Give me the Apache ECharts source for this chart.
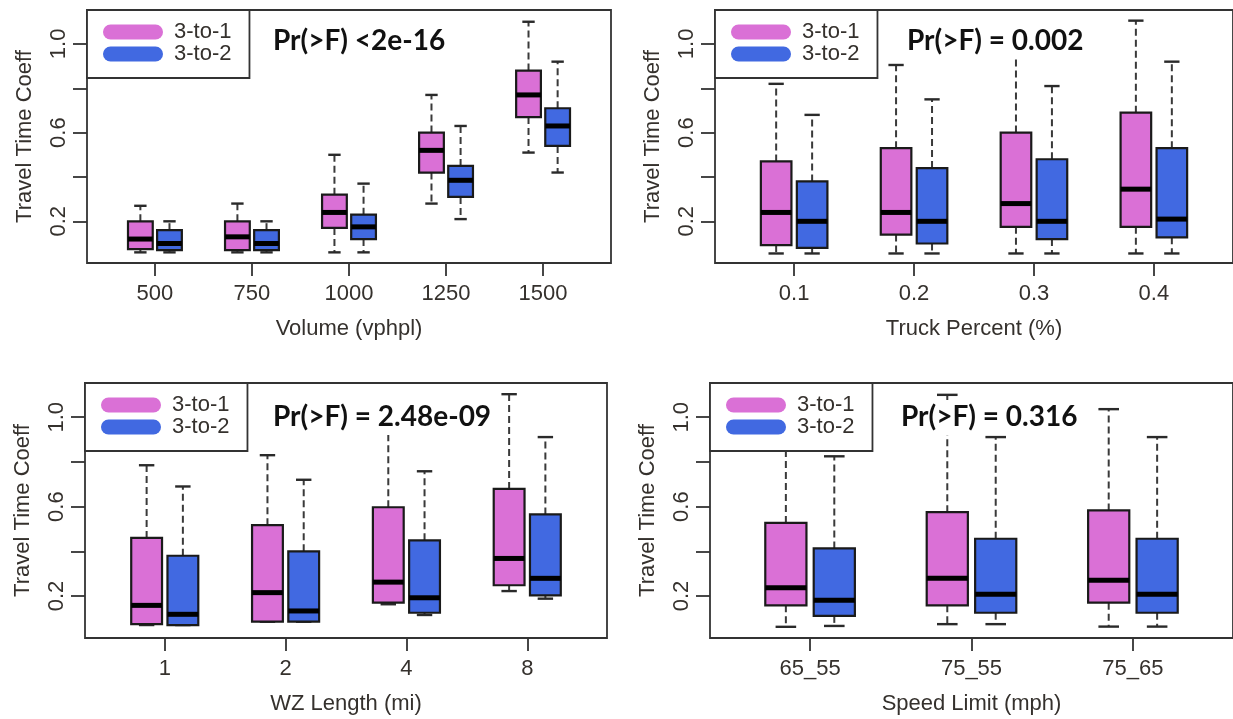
<!DOCTYPE html>
<html>
<head>
<meta charset="utf-8">
<script src="https://cdn.jsdelivr.net/npm/echarts@6/dist/echarts.min.js"></script>
<style>
  html, body { margin: 0; padding: 0; background: #fff; }
  #chart { width: 1233px; height: 719px; }
</style>
</head>
<body>
<div id="chart"></div>
<script>
// Box statistics per group: [lower whisker, Q1, median, Q3, upper whisker]
const volumeCategories = ['500', '750', '1000', '1250', '1500'];
const volume3to1 = [
  [0.06, 0.075, 0.12, 0.20, 0.27],
  [0.06, 0.07, 0.13, 0.20, 0.28],
  [0.06, 0.17, 0.24, 0.32, 0.50],
  [0.28, 0.42, 0.52, 0.60, 0.77],
  [0.51, 0.67, 0.77, 0.88, 1.10]
];
const volume3to2 = [
  [0.06, 0.07, 0.10, 0.16, 0.20],
  [0.06, 0.07, 0.10, 0.16, 0.20],
  [0.06, 0.12, 0.175, 0.23, 0.37],
  [0.21, 0.31, 0.385, 0.45, 0.63],
  [0.42, 0.54, 0.63, 0.71, 0.92]
];

const truckCategories = ['0.1', '0.2', '0.3', '0.4'];
const truck3to1 = [
  [0.055, 0.093, 0.24, 0.47, 0.82],
  [0.055, 0.14, 0.24, 0.53, 0.905],
  [0.055, 0.175, 0.28, 0.60, 0.99],
  [0.055, 0.175, 0.345, 0.69, 1.105]
];
const truck3to2 = [
  [0.055, 0.08, 0.20, 0.38, 0.68],
  [0.055, 0.10, 0.20, 0.44, 0.75],
  [0.055, 0.12, 0.20, 0.48, 0.81],
  [0.055, 0.128, 0.21, 0.53, 0.92]
];

const wzCategories = ['1', '2', '4', '8'];
const wz3to1 = [
  [0.07, 0.074, 0.158, 0.46, 0.785],
  [0.085, 0.085, 0.215, 0.517, 0.83],
  [0.163, 0.17, 0.262, 0.597, 1.0],
  [0.222, 0.248, 0.368, 0.679, 1.103]
];
const wz3to2 = [
  [0.07, 0.07, 0.118, 0.38, 0.69],
  [0.085, 0.085, 0.133, 0.40, 0.72],
  [0.115, 0.125, 0.192, 0.449, 0.758],
  [0.188, 0.203, 0.279, 0.565, 0.911]
];

const speedCategories = ['65_55', '75_55', '75_65'];
const speed3to1 = [
  [0.062, 0.158, 0.237, 0.527, 0.93],
  [0.074, 0.158, 0.279, 0.575, 1.10],
  [0.063, 0.17, 0.27, 0.583, 1.036]
];
const speed3to2 = [
  [0.066, 0.111, 0.181, 0.413, 0.825],
  [0.074, 0.125, 0.208, 0.456, 0.911],
  [0.063, 0.125, 0.208, 0.456, 0.911]
];

const seriesNames = ['3-to-1', '3-to-2'];
const yTicks = [0.2, 0.4, 0.6, 0.8, 1.0];
const yTickLabels = [0.2, 0.6, 1.0];
const yTitle = 'Travel Time Coeff';
const xTitles = ['Volume (vphpl)', 'Truck Percent (%)', 'WZ Length (mi)', 'Speed Limit (mph)'];
const pValueTexts = ['Pr(>F) <2e-16', 'Pr(>F) = 0.002', 'Pr(>F) = 2.48e-09', 'Pr(>F) = 0.316'];

// ---- styling / layout ----
const ORCHID = '#DA70D6';
const ROYAL = '#4169E1';
const INK = '#333333';
const TEXT = '#35312d';
const SANS = '"Liberation Sans", Arial, sans-serif';
const FONT_SIZE = 22;
const BOX_WIDTH = 0.255;   // box width in category units
const BOX_OFFSET = 0.15;   // half distance between paired boxes
const Y_MIN = 0.012, Y_MAX = 1.153;
const PILL = 'path://M7.5,0 L52.5,0 A7.5,7.5 0 0 1 52.5,15 L7.5,15 A7.5,7.5 0 0 1 7.5,0 Z';

const panels = [
  { cats: volumeCategories, a: volume3to1, b: volume3to2, left: 87,  top: 10,  width: 524, height: 253, textX: 270, textY: 24 },
  { cats: truckCategories,  a: truck3to1,  b: truck3to2,  left: 715, top: 10,  width: 524, height: 253, textX: 904, textY: 24 },
  { cats: wzCategories,     a: wz3to1,     b: wz3to2,     left: 85,  top: 383, width: 522, height: 255, textX: 270, textY: 400 },
  { cats: speedCategories,  a: speed3to1,  b: speed3to2,  left: 710, top: 383, width: 524, height: 255, textX: 898, textY: 400 }
];

function boxRenderer(offset, fill) {
  return function (params, api) {
    const x = api.value(0) + offset;
    const w = api.size([BOX_WIDTH, 0])[0];
    const lo = api.coord([x, api.value(1)]);
    const q1 = api.coord([x, api.value(2)]);
    const md = api.coord([x, api.value(3)]);
    const q3 = api.coord([x, api.value(4)]);
    const hi = api.coord([x, api.value(5)]);
    const cx = lo[0];
    const dashed = { stroke: '#3a3a3a', lineWidth: 2, lineDash: [7, 4] };
    const solid = { stroke: '#2a2a2a', lineWidth: 2.4 };
    return {
      type: 'group',
      children: [
        { type: 'line', shape: { x1: cx, y1: q3[1], x2: cx, y2: hi[1] }, style: dashed },
        { type: 'line', shape: { x1: cx, y1: q1[1], x2: cx, y2: lo[1] }, style: dashed },
        { type: 'line', shape: { x1: cx - w / 4, y1: hi[1], x2: cx + w / 4, y2: hi[1] }, style: solid },
        { type: 'line', shape: { x1: cx - w / 4, y1: lo[1], x2: cx + w / 4, y2: lo[1] }, style: solid },
        { type: 'rect', shape: { x: cx - w / 2, y: q3[1], width: w, height: q1[1] - q3[1] },
          style: { fill: fill, stroke: '#1a1a1a', lineWidth: 2.2 } },
        { type: 'line', shape: { x1: cx - w / 2, y1: md[1], x2: cx + w / 2, y2: md[1] },
          style: { stroke: '#000', lineWidth: 5 } }
      ]
    };
  };
}

const grid = [], xAxis = [], yAxis = [], series = [], legend = [], title = [];

panels.forEach(function (p, i) {
  const n = p.cats.length;
  grid.push({ left: p.left, top: p.top, width: p.width, height: p.height,
    show: true, borderColor: INK, borderWidth: 1.8, backgroundColor: 'transparent' });

  const catTicks = p.cats.map(function (c, k) { return k + 1; });
  xAxis.push({
    type: 'value', gridIndex: i,
    min: 0.5 - 0.04 * n, max: n + 0.5 + 0.04 * n,
    splitLine: { show: false },
    axisLine: { show: false },
    axisTick: { show: true, length: 13, customValues: catTicks, lineStyle: { color: INK, width: 1.8 } },
    axisLabel: { customValues: catTicks, margin: 20, fontFamily: SANS, fontSize: FONT_SIZE, color: TEXT,
      formatter: function (v) { return p.cats[Math.round(v) - 1]; } },
    name: xTitles[i], nameLocation: 'middle', nameGap: 55,
    nameTextStyle: { fontFamily: SANS, fontSize: FONT_SIZE, color: TEXT }
  });

  yAxis.push({
    type: 'value', gridIndex: i, min: Y_MIN, max: Y_MAX,
    splitLine: { show: false },
    axisLine: { show: false },
    axisTick: { show: true, length: 14, customValues: yTicks, lineStyle: { color: INK, width: 1.8 } },
    axisLabel: { customValues: yTickLabels, rotate: 90, margin: 17, fontFamily: SANS, fontSize: FONT_SIZE, color: TEXT,
      formatter: function (v) { return v.toFixed(1); } },
    name: yTitle, nameLocation: 'middle', nameGap: 51,
    nameTextStyle: { fontFamily: SANS, fontSize: FONT_SIZE, color: TEXT }
  });

  [p.a, p.b].forEach(function (stats, s) {
    series.push({
      type: 'custom', name: seriesNames[s],
      xAxisIndex: i, yAxisIndex: i,
      itemStyle: { color: s === 0 ? ORCHID : ROYAL },
      renderItem: boxRenderer(s === 0 ? -BOX_OFFSET : BOX_OFFSET, s === 0 ? ORCHID : ROYAL),
      encode: { x: 0, y: [1, 2, 3, 4, 5] },
      data: stats.map(function (row, k) { return [k + 1].concat(row); }),
      clip: false, silent: true
    });
  });

  legend.push({
    left: p.left, top: p.top, orient: 'vertical',
    padding: [11, 18, 13, 16], itemGap: 0, itemWidth: 60, itemHeight: 15,
    backgroundColor: '#fff', borderColor: INK, borderWidth: 1.8, borderRadius: 0,
    selectedMode: false,
    textStyle: { fontFamily: SANS, fontSize: FONT_SIZE, color: TEXT, lineHeight: 22, padding: [0, 0, 0, 6] },
    data: [
      { name: seriesNames[0], icon: PILL, itemStyle: { color: ORCHID, borderWidth: 0 } },
      { name: seriesNames[1], icon: PILL, itemStyle: { color: ROYAL, borderWidth: 0 } }
    ]
  });

  title.push({
    text: pValueTexts[i], left: p.textX, top: p.textY,
    padding: [1, 3, 3, 3], backgroundColor: '#fff',
    textStyle: { fontFamily: 'Lato, "Open Sans", sans-serif', fontWeight: 'bold', fontSize: 28,
      color: '#111', lineHeight: 31 }
  });
});

const chart = echarts.init(document.getElementById('chart'), null, { renderer: 'canvas' });
chart.setOption({
  animation: false,
  backgroundColor: '#fff',
  title: title,
  legend: legend,
  grid: grid,
  xAxis: xAxis,
  yAxis: yAxis,
  series: series
});
</script>
</body>
</html>
